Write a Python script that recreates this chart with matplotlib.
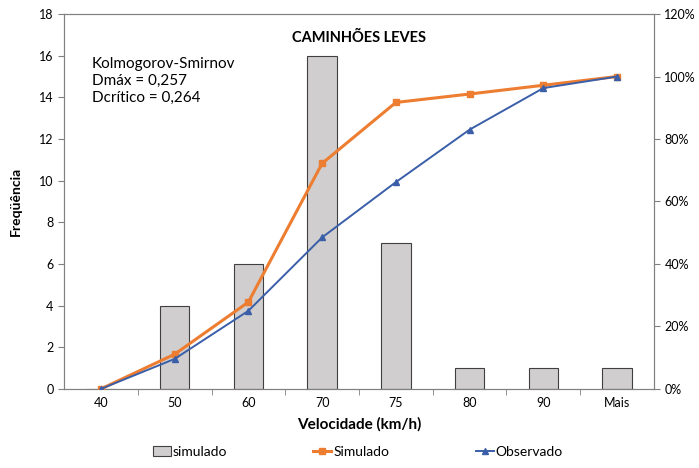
import matplotlib.pyplot as plt
from matplotlib.ticker import FuncFormatter

plt.rcParams['font.family'] = ['Lato', 'DejaVu Sans']

categorias = ['40', '50', '60', '70', '75', '80', '90', 'Mais']
freq_simulado = [0, 4, 6, 16, 7, 1, 1, 1]
acum_simulado = [0.0, 11.1, 27.8, 72.2, 91.7, 94.4, 97.2, 100.0]
acum_observado = [0.0, 9.6, 25.0, 48.5, 66.2, 83.0, 96.3, 100.0]

fig = plt.figure(figsize=(6.99, 4.68), dpi=100)
ax = fig.add_axes([0.0916, 0.169, 0.844, 0.801])
x = list(range(len(categorias)))

ax.bar(x, freq_simulado, width=0.4, color='#d0cece', edgecolor='#404040',
       linewidth=0.8, label='simulado', zorder=2)
ax.set_xlim(-0.5, len(categorias) - 0.5)
ax.set_ylim(0, 18)
ax.set_yticks(range(0, 19, 2))
ax.set_xticks(x)
ax.set_xticklabels(categorias)
ax.set_xticks([i + 0.5 for i in x[:-1]], minor=True)
ax.tick_params(axis='x', which='major', length=0, labelsize=9, pad=6)
ax.tick_params(axis='x', which='minor', length=4, direction='out', color='#808080')
ax.tick_params(axis='y', length=4, labelsize=9, color='#808080')
for s in ax.spines.values():
    s.set_color('#808080')
ax.set_ylabel('Freqüência', fontsize=10, fontweight='bold', labelpad=12)
ax.set_xlabel('Velocidade (km/h)', fontsize=11, fontweight='bold', labelpad=6)

ax2 = ax.twinx()
ax2.plot(x, acum_simulado, color='#ed7d31', linewidth=2.2, marker='s',
         markersize=5, label='Simulado', zorder=3)
ax2.plot(x, acum_observado, color='#3a5fa8', linewidth=1.4, marker='^',
         markersize=5, label='Observado', zorder=4)
ax2.set_ylim(0, 120)
ax2.set_yticks(range(0, 121, 20))
ax2.yaxis.set_major_formatter(FuncFormatter(lambda v, p: f'{int(v)}%'))
ax2.tick_params(axis='y', length=4, labelsize=9, color='#808080')
for s in ax2.spines.values():
    s.set_color('#808080')

ax.text(0.5, 0.955, 'CAMINHÕES LEVES', transform=ax.transAxes, ha='center',
        va='top', fontsize=10.5, fontweight='bold')
ax.text(0.047, 0.885, 'Kolmogorov-Smirnov\nDmáx = 0,257\nDcrítico = 0,264',
        transform=ax.transAxes, ha='left', va='top', fontsize=11, linespacing=1.25)

h1, l1 = ax.get_legend_handles_labels()
h2, l2 = ax2.get_legend_handles_labels()
fig.legend(h1 + h2, l1 + l2, loc='lower center', ncol=3, frameon=False,
           bbox_to_anchor=(0.512, -0.005), fontsize=10, columnspacing=6.2,
           handlelength=1.3, handletextpad=0.15)

fig.savefig('out.png', dpi=100)
